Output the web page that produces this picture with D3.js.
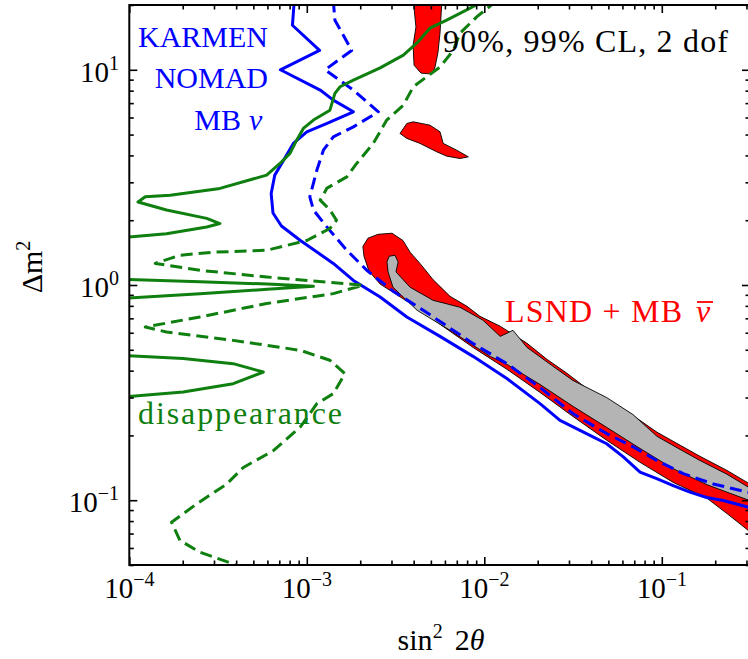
<!DOCTYPE html>
<html><head><meta charset="utf-8">
<script src="https://cdn.jsdelivr.net/npm/d3@7"></script>
<style>html,body{margin:0;padding:0;background:#fff;} svg{display:block;} text{font-family:"Liberation Serif","Times New Roman",serif;}</style>
</head><body>
<svg id="chart" width="748" height="659"></svg>
<script>
// ---------- axes ----------
const xDomain = [1e-4, 0.314];
const yDomain = [0.05, 20];
const xMajorTicks = [1e-4, 1e-3, 1e-2, 1e-1];
const xTickExponents = ["\u22124", "\u22123", "\u22122", "\u22121"];
const yMajorTicks = [0.1, 1, 10];
const yTickExponents = ["\u22121", "0", "1"];

// ---------- KARMEN + NOMAD + MB nu (appearance), 90% solid / 99% dashed ----------
const appear90 = [[8.5e-4,21],[8.3e-4,16.1],[1.18e-3,12.3],[7.1e-4,10.0],[1.19e-3,8.05],[1.41e-3,7.23],[1.83e-3,6.38],[1.30e-3,5.63],[1.0e-3,5.15],[8.4e-4,4.55],[7.4e-4,3.80],[6.6e-4,3.24],[6.3e-4,2.66],[6.45e-4,2.16],[7.2e-4,1.88],[9.2e-4,1.61],[1.41e-3,1.26],[1.83e-3,1.05],[2.59e-3,0.88],[3.66e-3,0.71],[5.63e-3,0.577],[8.64e-3,0.466],[0.0134,0.368],[0.0206,0.281],[0.0267,0.235],[0.0394,0.200],[0.0489,0.183],[0.0607,0.159],[0.0754,0.135],[0.0936,0.126],[0.116,0.117],[0.144,0.109],[0.179,0.103],[0.222,0.0997],[0.32,0.092]];
const appear99 = [[1.41e-3,21],[1.44e-3,17.0],[1.79e-3,12.3],[1.27e-3,10.0],[1.83e-3,8.05],[2.53e-3,6.38],[1.83e-3,5.43],[1.41e-3,4.88],[1.24e-3,4.23],[1.14e-3,3.42],[1.04e-3,2.57],[1.09e-3,2.23],[1.27e-3,1.90],[1.68e-3,1.45],[2.18e-3,1.17],[3.07e-3,0.935],[4.53e-3,0.763],[8.67e-3,0.534],[0.0134,0.431],[0.0206,0.334],[0.0317,0.252],[0.0489,0.204],[0.0691,0.177],[0.0936,0.153],[0.132,0.133],[0.195,0.119],[0.32,0.108]];

// ---------- disappearance, 90% solid (three pieces) / 99% dashed ----------
const disapp90 = [
  [[0.0101,21],[6.14e-3,17.0],[4.94e-3,15.6],[4.16e-3,13.3],[3.50e-3,11.7],[2.59e-3,10.2],[1.83e-3,8.96],[1.54e-3,8.34],[1.44e-3,7.77],[1.35e-3,6.49],[1.09e-3,5.84],[9.56e-4,5.34],[8.77e-4,4.71],[8.04e-4,4.09],[7.06e-4,3.67],[5.94e-4,3.24],[3.24e-4,2.81],[1.70e-4,2.61],[1.23e-4,2.57],[1.12e-4,2.43],[1.62e-4,2.23],[2.73e-4,2.04],[3.24e-4,1.93],[2.73e-4,1.86],[1.62e-4,1.73],[9e-5,1.66]],
  [[9e-5,1.065],[2.5e-4,1.035],[6e-4,1.01],[1.09e-3,0.986],[6e-4,0.955],[2.5e-4,0.91],[9e-5,0.865]],
  [[9e-5,0.471],[2.01e-4,0.455],[3.85e-4,0.431],[5.69e-4,0.394],[3.85e-4,0.348],[2.01e-4,0.318],[9e-5,0.301]]
];
const disapp99 = [[0.0118,21],[9.06e-3,17.6],[7.30e-3,14.8],[6.69e-3,12.3],[5.63e-3,10.3],[4.74e-3,9.28],[3.98e-3,8.34],[3.50e-3,6.85],[2.82e-3,5.84],[2.37e-3,4.55],[1.91e-3,3.67],[1.68e-3,3.18],[1.30e-3,2.82],[1.19e-3,2.48],[1.35e-3,2.23],[1.47e-3,2.0],[1.35e-3,1.83],[1.0e-3,1.61],[5.94e-4,1.45],[2.97e-4,1.42],[1.93e-4,1.375],[1.40e-4,1.26],[2.5e-4,1.17],[5.94e-4,1.09],[2.08e-3,0.997],[1.41e-3,0.912],[5.94e-4,0.82],[2.5e-4,0.71],[1.23e-4,0.638],[1.62e-4,0.605],[3.85e-4,0.553],[9.2e-4,0.497],[1.35e-3,0.447],[1.64e-3,0.387],[1.41e-3,0.313],[1.14e-3,0.281],[9.2e-4,0.219],[6.48e-4,0.170],[4.39e-4,0.142],[3.54e-4,0.119],[2.40e-4,0.0962],[1.73e-4,0.079],[1.93e-4,0.065],[2.5e-4,0.0573],[3.85e-4,0.0506],[4.2e-4,0.0485]];

// ---------- LSND + MB anti-nu regions: 99% (red) and 90% (gray) ----------
const lsnd99Band = [[2.10e-3,1.36],[2.07e-3,1.51],[2.21e-3,1.65],[2.52e-3,1.72],[3.02e-3,1.74],[3.48e-3,1.61],[3.82e-3,1.42],[4.34e-3,1.26],[5.14e-3,1.06],[6.41e-3,0.886],[7.99e-3,0.796],[9.46e-3,0.715],[0.0123,0.643],[0.0174,0.536],[0.0226,0.451],[0.0292,0.389],[0.0384,0.327],[0.0489,0.291],[0.0662,0.253],[0.094,0.207],[0.127,0.180],[0.164,0.160],[0.233,0.1375],[0.33,0.116],
  [0.33,0.069],[0.233,0.0867],[0.180,0.102],[0.116,0.121],[0.0754,0.150],[0.0489,0.190],[0.0316,0.245],[0.0206,0.317],[0.0134,0.406],[8.64e-3,0.513],[5.63e-3,0.657],[3.67e-3,0.840],[2.59e-3,1.01],[2.24e-3,1.16]];
const lsnd99IslandTop = [[3.97e-3,21.5],[4.12e-3,15.8],[3.97e-3,13.0],[4.02e-3,10.5],[4.40e-3,9.65],[5.07e-3,9.55],[5.28e-3,10.3],[5.48e-3,12.0],[5.63e-3,14.8],[5.78e-3,21.5]];
const lsnd99IslandMid = [[3.35e-3,5.06],[3.66e-3,5.63],[3.98e-3,5.73],[4.94e-3,5.53],[5.63e-3,5.15],[5.87e-3,4.55],[6.99e-3,4.23],[8.13e-3,3.94],[7.30e-3,3.87],[6.14e-3,3.97],[5.39e-3,4.16],[4.34e-3,4.55],[3.66e-3,4.80]];
const lsnd90Band = [[2.83e-3,1.28],[2.91e-3,1.36],[3.14e-3,1.375],[3.27e-3,1.28],[3.18e-3,1.15],[3.82e-3,0.976],[5.14e-3,0.849],[7.30e-3,0.788],[9.83e-3,0.686],[0.0123,0.577],[0.0145,0.616],[0.0174,0.513],[0.0244,0.419],[0.0316,0.360],[0.0489,0.300],[0.0688,0.250],[0.094,0.198],[0.127,0.172],[0.164,0.153],[0.233,0.132],[0.33,0.111],
  [0.33,0.098],[0.233,0.109],[0.180,0.118],[0.116,0.140],[0.0754,0.174],[0.0489,0.218],[0.0316,0.273],[0.0206,0.345],[0.0134,0.428],[0.0108,0.466],[6.41e-3,0.616],[4.18e-3,0.763],[3.06e-3,0.976],[2.87e-3,1.15]];

// ---------- drawing ----------
const M = {left: 129.3, right: 750, top: 5, bottom: 565};
const x = d3.scaleLog().domain(xDomain).range([M.left, M.right]);
const y = d3.scaleLog().domain(yDomain).range([M.bottom, M.top]);
const svg = d3.select("#chart");
svg.append("rect").attr("width", 748).attr("height", 659).attr("fill", "#fff");
svg.append("defs").append("clipPath").attr("id", "clip").append("rect")
  .attr("x", M.left).attr("y", M.top).attr("width", M.right - M.left).attr("height", M.bottom - M.top);
const plot = svg.append("g").attr("clip-path", "url(#clip)");
const line = d3.line().x(d => x(d[0])).y(d => y(d[1]));

const RED = "#ff0000", GRAY = "#b4b4b4", BLUE = "#0000ff", GREEN = "#0f7f0f";

[lsnd99Band, lsnd99IslandTop, lsnd99IslandMid].forEach(p => {
  plot.append("path").attr("d", line(p) + "Z").attr("fill", RED).attr("stroke", "#000").attr("stroke-width", 0.9);
});
plot.append("path").attr("d", line(lsnd90Band) + "Z").attr("fill", GRAY).attr("stroke", "#000").attr("stroke-width", 0.9);

const lineStyle = (sel, color, dashed) => sel.attr("fill", "none").attr("stroke", color).attr("stroke-width", 3)
  .attr("stroke-linejoin", "round").attr("stroke-dasharray", dashed ? "12,6" : null);

lineStyle(plot.append("path").attr("d", line(appear90)), BLUE, false);
lineStyle(plot.append("path").attr("d", line(appear99)), BLUE, true);
disapp90.forEach(seg => lineStyle(plot.append("path").attr("d", line(seg)), GREEN, false));
lineStyle(plot.append("path").attr("d", line(disapp99)), GREEN, true);

// ticks
function minorTicks(dom) {
  const out = [];
  for (let e = Math.floor(Math.log10(dom[0])); e <= Math.ceil(Math.log10(dom[1])); e++)
    for (let k = 2; k <= 9; k++) { const v = k * Math.pow(10, e); if (v >= dom[0] * 0.999 && v <= dom[1] * 1.001) out.push(v); }
  return out;
}
const xMinor = minorTicks(xDomain), yMinor = minorTicks(yDomain);
const axG = svg.append("g");
function addAxis(axisGen, transform, vals, size) {
  const a = axG.append("g").attr("transform", transform)
    .call(axisGen.tickValues(vals).tickSize(size).tickSizeOuter(0).tickFormat(""));
  a.select(".domain").remove();
  a.selectAll("line").attr("stroke", "#000").attr("stroke-width", 1.6);
}
addAxis(d3.axisBottom(x), `translate(0,${M.bottom})`, xMajorTicks, -8);
addAxis(d3.axisBottom(x), `translate(0,${M.bottom})`, xMinor, -4.5);
addAxis(d3.axisTop(x), `translate(0,${M.top})`, xMajorTicks, -8);
addAxis(d3.axisTop(x), `translate(0,${M.top})`, xMinor, -4.5);
addAxis(d3.axisLeft(y), `translate(${M.left},0)`, yMajorTicks, -8);
addAxis(d3.axisLeft(y), `translate(${M.left},0)`, yMinor, -4.5);
addAxis(d3.axisRight(y), `translate(${M.right},0)`, yMajorTicks, -8);
addAxis(d3.axisRight(y), `translate(${M.right},0)`, yMinor, -4.5);

svg.append("rect").attr("x", M.left).attr("y", M.top).attr("width", M.right - M.left).attr("height", M.bottom - M.top)
  .attr("fill", "none").attr("stroke", "#000").attr("stroke-width", 2);

// tick labels
xMajorTicks.forEach((v, i) => {
  const t = svg.append("text").attr("x", x(v)).attr("y", 598).attr("text-anchor", "middle").attr("font-size", 29);
  t.append("tspan").text("10");
  t.append("tspan").attr("dy", -12).attr("font-size", 20).text(xTickExponents[i]);
});
yMajorTicks.forEach((v, i) => {
  const t = svg.append("text").attr("x", 119).attr("y", y(v) + 12).attr("text-anchor", "end").attr("font-size", 29);
  t.append("tspan").text("10");
  t.append("tspan").attr("dy", -12).attr("font-size", 20).text(yTickExponents[i]);
});

// axis titles
const xt = svg.append("text").attr("x", 441).attr("y", 650).attr("text-anchor", "middle").attr("font-size", 30);
xt.append("tspan").text("sin");
xt.append("tspan").attr("dy", -12).attr("font-size", 20).text("2");
xt.append("tspan").attr("dy", 12).text("\u2009\u20092");
xt.append("tspan").attr("font-style", "italic").text("\u03b8");

const yt = svg.append("text").attr("transform", "translate(42,267) rotate(-90)").attr("text-anchor", "middle").attr("font-size", 30);
yt.append("tspan").text("\u0394m");
yt.append("tspan").attr("dy", -12).attr("font-size", 20).text("2");

// in-plot labels
const lab = (txt, xx, yy, color, size, anchor, len) => {
  const t = svg.append("text").attr("x", xx).attr("y", yy).attr("fill", color).attr("font-size", size).attr("text-anchor", anchor || "start").text(txt);
  if (len) t.attr("textLength", len).attr("lengthAdjust", "spacing");
  return t;
};
lab("KARMEN", 268, 47, BLUE, 30, "end");
lab("NOMAD", 268, 88, BLUE, 30, "end");
lab("MB", 241, 130, BLUE, 30, "end");
lab("\u03bd", 249, 130, BLUE, 30, "start").attr("font-style", "italic");
lab("90%, 99% CL, 2 dof", 443, 52, "#000", 32, "start", 285);
lab("LSND + MB", 505, 322, RED, 32, "start", 177);
lab("\u03bd", 696, 322, RED, 32, "start").attr("font-style", "italic");
svg.append("line").attr("x1", 697).attr("x2", 713).attr("y1", 302).attr("y2", 302).attr("stroke", RED).attr("stroke-width", 1.8);
lab("disappearance", 138, 424, GREEN, 32, "start", 204);
</script>
</body></html>
